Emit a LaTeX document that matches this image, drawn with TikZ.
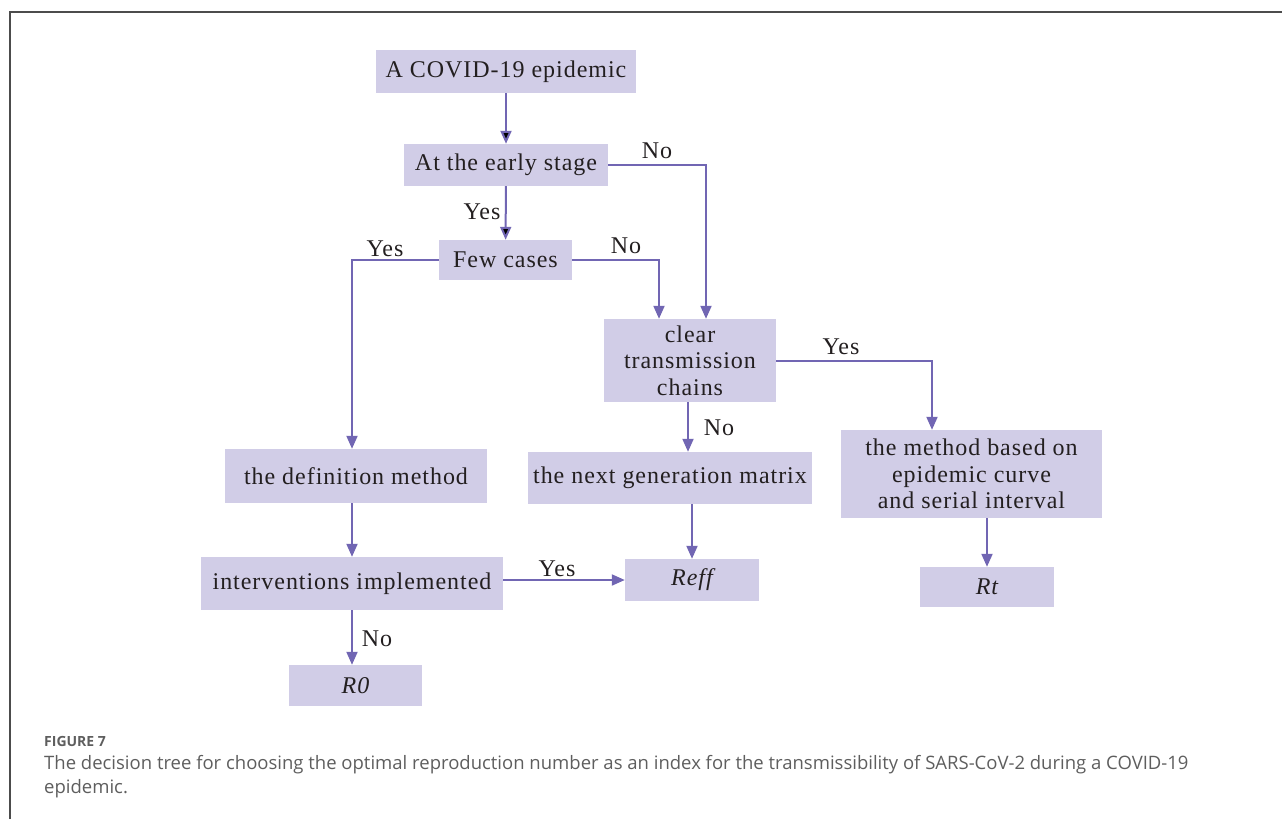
\documentclass[tikz,border=0pt]{standalone}
\usepackage{fontspec}
\usetikzlibrary{arrows.meta}
\newfontfamily\boxfont[LetterSpace=4]{Liberation Serif}
\newfontfamily\capfont{Open Sans}
\definecolor{boxfill}{HTML}{D1CDE7}
\definecolor{arrowcol}{HTML}{7166B3}
\definecolor{inkcol}{HTML}{231F20}
\definecolor{capgray}{HTML}{5E5E5E}
\tikzset{
  flow/.style={draw=arrowcol,line width=2pt,-{Triangle[length=13pt,width=11pt]}},
  answer/.style={inner sep=0pt,text=inkcol,font=\boxfont\fontsize{24}{26}\selectfont}
}
\begin{document}
\begin{tikzpicture}[x=1pt,y=-1pt]
			\useasboundingbox (0,0) rectangle (1282,819);
			\draw[line width=1.2pt,draw=black!70] (10,819) -- (10,12) -- (1282,12);
			
			\begin{scope}[every node/.style={fill=boxfill,inner sep=0pt,align=center,text=inkcol,font=\boxfont\fontsize{24}{26.5}\selectfont}]
			\node[minimum width=260pt,minimum height=43pt] (covid) at (506, 71.5) {A COVID-19 epidemic};
			\node[minimum width=204pt,minimum height=42pt] (early) at (506, 165)  {At the early stage};
			\node[minimum width=133pt,minimum height=40pt] (few)   at (505.5, 260) {Few cases};
			\node[minimum width=172pt,minimum height=83pt] (clear) at (690, 360.5) {clear\\transmission\\chains};
			\node[minimum width=261pt,minimum height=88pt] (curve) at (971.5, 474) {the method based on\\epidemic curve\\and serial interval};
			\node[minimum width=262pt,minimum height=54pt] (defin) at (356, 476)  {the definition method};
			\node[minimum width=284pt,minimum height=52pt] (nextg) at (670, 478)  {the next generation matrix};
			\node[minimum width=302pt,minimum height=53pt] (inter) at (352, 583.5) {interventions implemented};
			\node[minimum width=134pt,minimum height=42pt] (reff)  at (692, 580)  {\itshape Reff};
			\node[minimum width=134pt,minimum height=40pt] (rt)    at (987, 587)  {\itshape Rt};
			\node[minimum width=133pt,minimum height=41pt] (rzero) at (355.5, 685.5) {\itshape R0};
			\end{scope}
			
			% yes / no labels
			\node[answer] (l-early-yes) at (482, 212) {Yes};
			\node[answer] (l-early-no)  at (657, 151) {No};
			\node[answer] (l-few-yes)   at (385, 249) {Yes};
			\node[answer] (l-few-no)    at (626, 246) {No};
			\node[answer] (l-clear-yes) at (841, 347) {Yes};
			\node[answer] (l-clear-no)  at (719, 428) {No};
			\node[answer] (l-inter-yes) at (557, 569) {Yes};
			\node[answer] (l-inter-no)  at (377, 639) {No};
			
			\path [flow] (covid) edge (early);
			\path [flow] (early) edge (few);
			\draw [flow] (early.east) -| ([xshift=16pt]clear.north);
			\draw [flow] (few.east) -| ([xshift=-31pt]clear.north);
			\draw [flow] (few.west) -| ([xshift=-4pt]defin.north);
			\draw [flow] (clear.east) -| ([xshift=-39.5pt]curve.north);
			\draw [flow] ([xshift=-2pt]clear.south) -- ([xshift=-2pt]clear.south |- nextg.north);
			\draw [flow] (reff.north |- nextg.south) -- (reff.north);
			\draw [flow] ([xshift=-4pt]defin.south) -- ([xshift=-4pt]defin.south |- inter.north);
			\draw [flow] (inter.east |- reff.west) -- (reff.west);
			\draw [flow] (inter.south) -- (inter.south |- rzero.north);
			\draw [flow] (rt.north |- curve.south) -- (rt.north);
			
			% caption
			\node[anchor=west,inner sep=0pt,text=capgray,font=\capfont\fontsize{14}{16}\selectfont\bfseries] (figlabel) at (44, 741) {FIGURE 7};
			\node[anchor=north west,inner sep=0pt,text=capgray,align=left,font=\capfont\fontsize{18.5}{24}\selectfont] (figtext) at (44, 755) {The decision tree for choosing the optimal reproduction number as an index for the transmissibility of SARS-CoV-2 during a COVID-19\\epidemic.};
			\end{tikzpicture}
\end{document}
